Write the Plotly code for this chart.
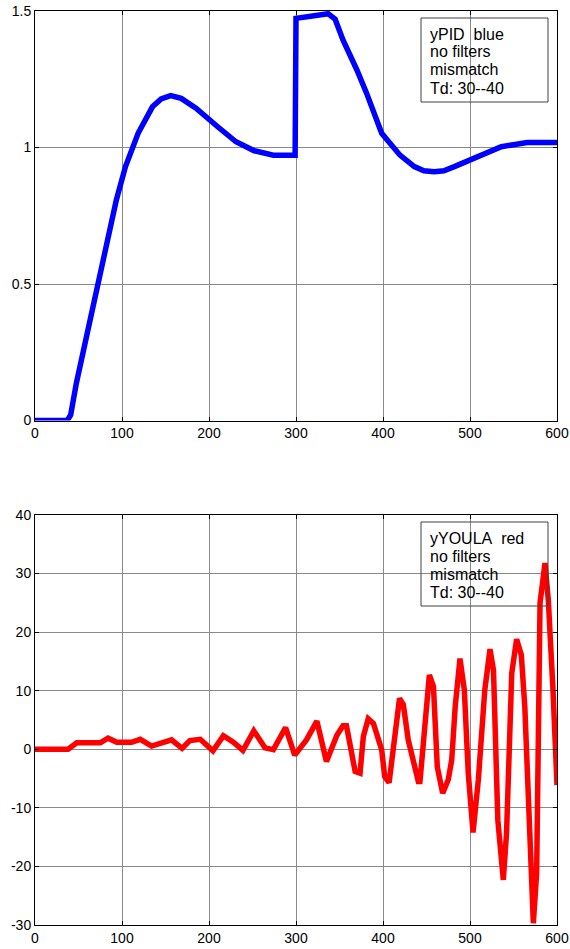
import plotly.graph_objects as go
from plotly.subplots import make_subplots

# ---- data ----
t_pid = [0, 37, 41, 47.5, 60, 70.5, 81, 93.5, 104, 118.5, 135, 145, 156, 168, 185, 197, 210,
         231, 252, 274, 299, 300, 318, 330, 337, 345, 354, 370, 381, 398.5, 419.5, 436, 447,
         459, 470, 482, 503, 520, 536, 550, 565.6, 600]
y_pid = [0, 0, 0.02, 0.136, 0.319, 0.478, 0.637, 0.808, 0.93, 1.052, 1.149, 1.178, 1.19, 1.18,
         1.144, 1.11, 1.076, 1.021, 0.988, 0.972, 0.972, 1.473, 1.48, 1.487, 1.49, 1.47, 1.394,
         1.284, 1.2, 1.052, 0.972, 0.93, 0.915, 0.911, 0.915, 0.93, 0.96, 0.985, 1.003, 1.01,
         1.018, 1.018]

t_youla = [0, 38, 48, 75, 84, 94, 111, 121, 134, 144, 157, 169, 178, 190, 204.5, 216.5, 228,
           239, 251.5, 264.4, 274, 288, 298.5, 312, 324, 335, 347, 354, 358, 368, 373.6, 377.4,
           383, 389, 398.5, 402, 407, 419, 423.4, 429, 435, 440.6, 442.5, 453.3, 458, 462.4,
           468.6, 475, 479, 483, 488.5, 493.5, 498, 503.5, 509.6, 517, 523, 527, 532, 538.3,
           542, 548, 553.6, 559, 563, 572.8, 576.6, 580.5, 586.2, 590, 595.4, 600]
y_youla = [0, 0, 1.1, 1.1, 1.9, 1.2, 1.2, 1.7, 0.55, 1.0, 1.6, 0.15, 1.5, 1.7, -0.25, 2.3, 1.2,
           -0.2, 3.15, 0.25, -0.05, 3.7, -1.0, 1.6, 4.8, -2.1, 2.4, 4.0, 4.0, -3.8, -4.1, 2.2,
           5.2, 4.4, -0.1, -4.7, -5.7, 8.7, 7.6, 1.6, -2.1, -5.5, -5.5, 12.7, 10.7, -3.0,
           -7.5, -5.2, -1.8, 7.3, 15.5, 10.1, -4.1, -14.2, -5.2, 10.1, 17.1, 13.5, -12.1, -22.3,
           -14.3, 13.0, 18.8, 16.1, 7.3, -29.7, -21.2, 25.0, 31.8, 25.5, 10.1, -6.1]

x_ticks = [0, 100, 200, 300, 400, 500, 600]
x_ticklabels = ["0", "100", "200", "300", "400", "500", "600"]
y1_ticks = [0, 0.5, 1, 1.5]
y1_ticklabels = ["0", "0.5", "1", "1.5"]
y2_ticks = [-30, -20, -10, 0, 10, 20, 30, 40]
y2_ticklabels = ["-30", "-20", "-10", "0", "10", "20", "30", "40"]

legend_top = ["yPID\u00a0\u00a0blue", "no filters", "mismatch", "Td: 30--40"]
legend_bot = ["yYOULA\u00a0\u00a0red", "no filters", "mismatch", "Td: 30--40"]

# ---- figure ----
W, H = 570, 949
ML, MR, MT, MB = 35, 13, 11, 24
fig = make_subplots(rows=2, cols=1)
fig.add_trace(go.Scatter(x=t_pid, y=y_pid, mode="lines",
                         line=dict(color="#0000FF", width=5.5), showlegend=False), row=1, col=1)
fig.add_trace(go.Scatter(x=t_youla, y=y_youla, mode="lines",
                         line=dict(color="#FF0000", width=5.5), showlegend=False), row=2, col=1)

ph = H - MT - MB
top_dom = [1 - (420.5 - MT) / ph, 1.0]
bot_dom = [0.0, 1 - (515 - MT) / ph]

axis_common = dict(showline=True, linecolor="black", linewidth=1, mirror="ticks",
                   ticks="inside", ticklen=4, tickcolor="black", showgrid=True,
                   gridcolor="#8a8a8a", gridwidth=1, zeroline=False, automargin=False,
                   tickfont=dict(family="Liberation Sans, Arial", size=14, color="black"))

fig.update_xaxes(range=[0, 600], tickmode="array", tickvals=x_ticks, ticktext=x_ticklabels,
                 **axis_common)
fig.update_yaxes(**axis_common)
fig.update_yaxes(range=[0, 1.5], tickmode="array", tickvals=y1_ticks, ticktext=y1_ticklabels,
                 domain=top_dom, row=1, col=1)
fig.update_yaxes(range=[-30, 40], tickmode="array", tickvals=y2_ticks, ticktext=y2_ticklabels,
                 domain=bot_dom, row=2, col=1)

pw = W - ML - MR
dom_h_top = 420.5 - 11
dom_h_bot = 925 - 515
box_x0 = (421 - 35) / pw
box_x1 = (548 - 35) / pw
text_x = (428 - 35) / pw
line_rel = [23, 41, 59, 77]

for (xr, yr, dh, lines) in [("x", "y", dom_h_top, legend_top), ("x2", "y2", dom_h_bot, legend_bot)]:
    fig.add_shape(type="rect", xref=xr + " domain", yref=yr + " domain",
                  x0=box_x0, x1=box_x1, y0=1 - 91 / dh, y1=1 - 7 / dh,
                  line=dict(color="#404040", width=1), fillcolor="rgba(0,0,0,0)")
    for txt, rel in zip(lines, line_rel):
        fig.add_annotation(xref=xr + " domain", yref=yr + " domain", x=text_x, y=1 - rel / dh,
                           xanchor="left", yanchor="middle", text=txt, showarrow=False,
                           font=dict(family="Liberation Sans, Arial", size=16, color="black"))

fig.update_layout(width=W, height=H, margin=dict(l=ML, r=MR, t=MT, b=MB, autoexpand=False),
                  plot_bgcolor="white", paper_bgcolor="white")

fig.write_html("out.html", config={"displayModeBar": False},
               post_script="document.body.style.margin='0';document.body.style.overflow='hidden';")
